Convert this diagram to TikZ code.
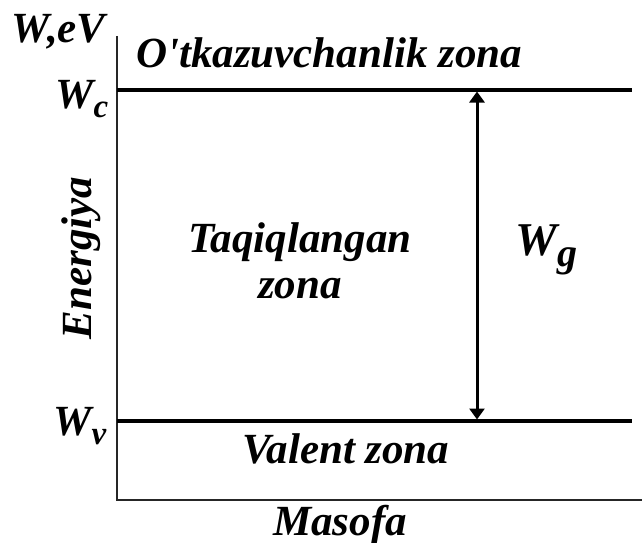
\documentclass[tikz,border=0pt]{standalone}
\usepackage{fontspec}
\setmainfont{Liberation Serif}
\newfontfamily\noligs{Liberation Serif}[Ligatures=TeXOff]
\usetikzlibrary{arrows.meta}
\tikzset{
  lbl/.style={inner sep=0pt, outer sep=0pt, font=\fontsize{43}{49}\selectfont\bfseries\itshape},
  biglbl/.style={inner sep=0pt, outer sep=0pt, font=\fontsize{47}{52}\selectfont\bfseries\itshape},
  axis/.style={line width=1.8pt, draw=black!85},
  level/.style={line width=3.5pt, draw=black},
  gap/.style={line width=3pt, {Triangle[width=15pt,length=11pt]}-{Triangle[width=15pt,length=11pt]}, shorten <=1.5pt, shorten >=1.5pt}
}
\newcommand{\subl}[2]{\raisebox{-#2}{\fontsize{33}{33}\selectfont #1}}
\newcommand{\bigsubl}[1]{\raisebox{-11pt}{\fontsize{40}{40}\selectfont #1}}
\begin{document}
\begin{tikzpicture}[x=1pt,y=-1pt]
\useasboundingbox (0,0) rectangle (642,543);
% coordinates
\coordinate (ytop) at (117,36);
\coordinate (orig) at (117,500);
\coordinate (xend) at (642,500);
\coordinate (wcL) at (117,90);
\coordinate (wcR) at (632,90);
\coordinate (wvL) at (117,421);
\coordinate (wvR) at (632,421);
\coordinate (arT) at (477,90);
\coordinate (arB) at (477,421);
% axes
\draw[axis] (ytop) -- (orig) -- (xend);
% levels
\draw[level] (wcL) -- (wcR);
\draw[level] (wvL) -- (wvR);
\draw[gap] (arT) -- (arB);
% labels
\node[lbl, anchor=base west] (yl) at (12,42) {W,eV};
\node[lbl, anchor=base west] (wc) at (55,108) {W\kern0.5pt\subl{c}{9pt}};
\node[lbl, anchor=base west] (wv) at (53,435) {W\kern0.5pt\subl{v}{9pt}};
\node[lbl, anchor=base] (cb) at (329,67) {O{\noligs\symbol{39}}tkazuvchanlik zona};
\node[lbl, anchor=base] (fz) at (300,252) {Taqiqlangan};
\node[lbl, anchor=base] (fz2) at (300,298) {zona};
\node[biglbl, anchor=base west] (wg) at (515,255) {W\kern0.5pt\bigsubl{g}};
\node[lbl, anchor=base] (vb) at (346,463) {Valent zona};
\node[lbl, anchor=base] (xl) at (340,535) {Masofa};
\node[lbl, anchor=base, rotate=90] (en) at (91,258) {Energiya};
\end{tikzpicture}
\end{document}
